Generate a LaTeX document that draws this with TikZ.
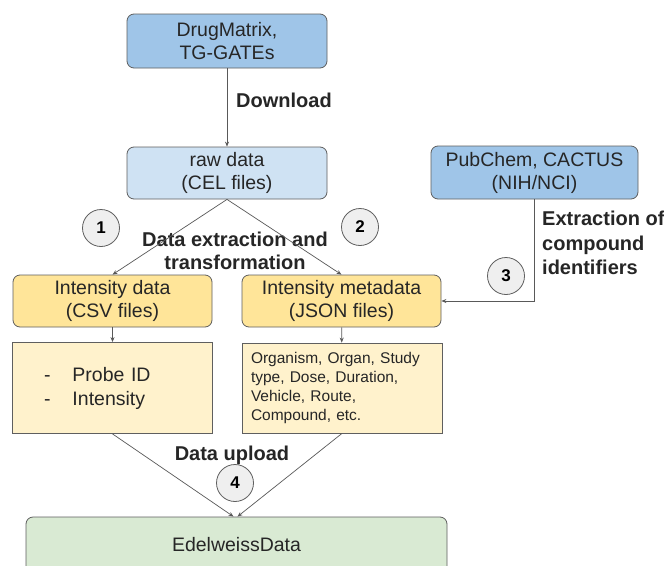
\documentclass[tikz,border=0pt]{standalone}
\usepackage{fontspec}
\setmainfont{Liberation Sans}
\usetikzlibrary{arrows.meta}
\definecolor{blueA}{HTML}{9FC5E8}
\definecolor{blueB}{HTML}{CFE2F3}
\definecolor{yelA}{HTML}{FFE599}
\definecolor{yelB}{HTML}{FFF2CC}
\definecolor{greenA}{HTML}{D9EAD3}
\definecolor{circfill}{HTML}{EFEFEF}
\definecolor{bordergray}{HTML}{5F5F5F}
\definecolor{linegray}{HTML}{595959}
\begin{document}
\begin{tikzpicture}[x=1pt,y=-1pt,
  box/.style={draw=bordergray, line width=0.8pt, rounded corners=7pt, align=center,
    font=\fontsize{19.5}{23}\selectfont, inner sep=0pt, text=black!85},
  sqbox/.style={draw=bordergray, line width=0.8pt, inner sep=0pt, text=black!85},
  circ/.style={circle, draw=bordergray, line width=0.8pt, fill=circfill, minimum size=37pt,
    inner sep=0pt, font=\bfseries\fontsize{17}{17}\selectfont},
  lbl/.style={font=\bfseries\fontsize{20}{23}\selectfont, text=black!85, inner sep=0pt},
  arr/.style={-{Stealth[length=5pt,width=4pt]}, draw=linegray, line width=0.7pt}]
\clip (0,0) rectangle (664,565);
\useasboundingbox (0,0) rectangle (664,565);
\fill[white] (0,0) rectangle (664,565);

\node[box, fill=blueA, minimum width=200pt, minimum height=54pt] (dm) at (227,41) {DrugMatrix,\\TG-GATEs};
\node[box, fill=blueB, minimum width=200pt, minimum height=52pt] (raw) at (227,173) {raw data\\(CEL files)};
\node[box, fill=blueA, minimum width=207pt, minimum height=53pt] (pc) at (534.5,172.5) {PubChem, CACTUS\\(NIH/NCI)};
\node[box, fill=yelA, minimum width=199pt, minimum height=52pt] (idata) at (112.5,301) {Intensity data\\(CSV files)};
\node[box, fill=yelA, minimum width=199pt, minimum height=52pt] (meta) at (341.5,301) {Intensity metadata\\(JSON files)};
\node[sqbox, fill=yelB, minimum width=200pt, minimum height=91pt, text width=137pt, align=left,
  font=\fontsize{19.5}{24}\selectfont] (probe) at (112.5,388)
  {-\hspace{22pt}Probe ID\\-\hspace{22pt}Intensity};
\node[sqbox, fill=yelB, minimum width=200pt, minimum height=90pt, text width=182pt, align=left,
  font=\fontsize{15.5}{19}\selectfont] (mlist) at (342,388)
  {Organism, Organ, Study\\type, Dose, Duration,\\Vehicle, Route,\\Compound, etc.};
\node[box, fill=greenA, minimum width=421pt, minimum height=56pt, text depth=0pt] (edel) at (236.5,545) {};
\node[font=\fontsize{19.5}{23}\selectfont, text=black!85] (edeltext) at (236.5,545) {EdelweissData};

\node[circ] (c1) at (101,228) {1};
\node[circ] (c2) at (360,227) {2};
\node[circ] (c3) at (506,276) {3};
\node[circ] (c4) at (235,483) {4};

\node[lbl, anchor=west] (ldl) at (236,100) {Download};
\node[lbl, align=center] (lext) at (235,251) {Data extraction and\\transformation};
\node[lbl, align=left, anchor=west, font=\bfseries\fontsize{20}{24.5}\selectfont] (lcomp) at (542,243) {Extraction of\\compound\\identifiers};
\node[lbl] (lup) at (232,455) {Data upload};

\draw[arr] (dm) -- (raw);
\draw[arr] (raw.south) -- (idata.north);
\draw[arr] (raw.south) -- (meta.north);
\draw[arr] (pc.south) |- (meta.east);
\draw[arr] (idata) -- (probe);
\draw[arr] (meta) -- (mlist);
\draw[arr] (probe.south) -- ([xshift=-3pt]edel.north);
\draw[arr] (mlist.south) -- ([xshift=1pt]edel.north);
\end{tikzpicture}
\end{document}
